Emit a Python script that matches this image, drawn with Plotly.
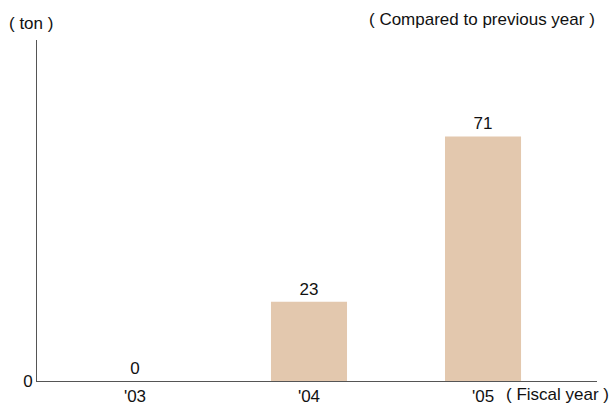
import plotly.graph_objects as go

categories = ["'03", "'04", "'05"]
values = [0, 23, 71]
positions = [0, 1, 2]

font = "Liberation Sans, Arial, sans-serif"

fig = go.Figure()
fig.add_trace(go.Bar(
    x=positions, y=values, width=0.437,
    marker=dict(color="#E3C8AE", line=dict(width=0)),
    text=[str(v) for v in values], textposition="outside",
    textfont=dict(family=font, size=17, color="#111111"),
    cliponaxis=False,
))

fig.update_layout(
    width=613, height=405,
    margin=dict(l=37, r=16, t=40, b=24, autoexpand=False),
    paper_bgcolor="white", plot_bgcolor="white",
    showlegend=False,
    font=dict(family=font, size=17, color="#111111"),
    xaxis=dict(
        range=[-0.563, 2.655], tickvals=positions, ticktext=categories,
        showgrid=False, zeroline=False, showline=True, linecolor="#555555", linewidth=1,
        ticks="", ticklen=0, tickfont=dict(size=17), automargin=False,
    ),
    yaxis=dict(
        range=[0, 99], tickvals=[0], ticktext=["0"],
        showgrid=False, zeroline=False, showline=True, linecolor="#555555", linewidth=1,
        ticks="", tickfont=dict(size=17), automargin=False,
    ),
    annotations=[
        dict(text="( ton )", x=7, y=23, showarrow=False,
             xanchor="left", yanchor="middle"),
        dict(text="( Compared to previous year )", x=597, y=19, showarrow=False,
             xanchor="right", yanchor="middle"),
        dict(text="( Fiscal year )", x=611, y=394, showarrow=False,
             xanchor="right", yanchor="middle"),
    ],
)

# convert pixel annotation coordinates to paper coordinates
pw, ph = 613 - 37 - 16, 405 - 40 - 24
for a in fig.layout.annotations:
    a.xref = "paper"; a.yref = "paper"
    a.x = (a.x - 37) / pw
    a.y = 1 - (a.y - 40) / ph

fig.write_html("out.html")
